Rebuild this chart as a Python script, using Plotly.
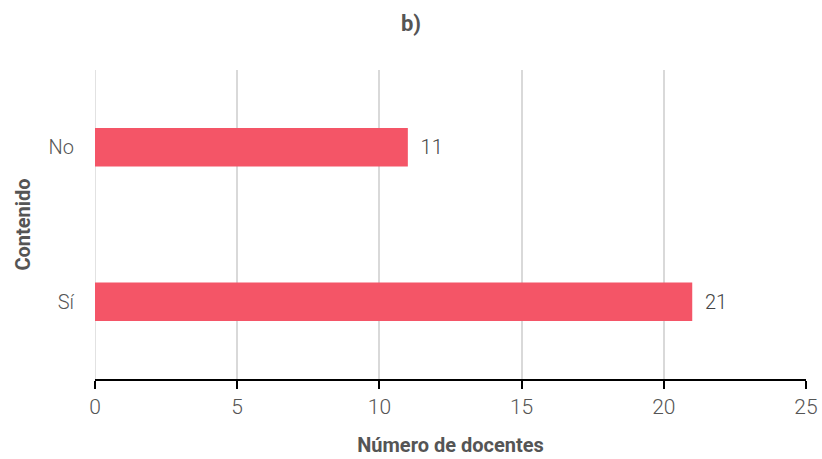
import plotly.graph_objects as go

categorias = ["Sí", "No"]
docentes = [21, 11]
ticks_x = [0, 5, 10, 15, 20, 25]

FONT = "Roboto"
GRIS = "#555555"

fig = go.Figure()
fig.add_trace(go.Bar(
    y=categorias,
    x=docentes,
    orientation="h",
    marker=dict(color="#F45567", line=dict(width=0)),
    text=["  " + str(v) for v in docentes],
    textposition="outside",
    textfont=dict(family=FONT, size=20, color="#444444", weight=300),
    cliponaxis=False,
))

fig.update_layout(
    width=822,
    height=459,
    margin=dict(l=95, r=16, t=70, b=80),
    paper_bgcolor="white",
    plot_bgcolor="white",
    bargap=0.75,
    showlegend=False,
    title=dict(
        text="<b>b)</b>",
        x=0.5,
        xanchor="center",
        y=0.95,
        yanchor="middle",
        font=dict(family=FONT, size=22, color=GRIS),
    ),
    xaxis=dict(
        range=[0, 25],
        tickvals=ticks_x,
        automargin=False,
        showgrid=True,
        gridcolor="#D9D9D9",
        gridwidth=1.5,
        zeroline=False,
        showline=True,
        linecolor="black",
        linewidth=1.5,
        ticks="outside",
        ticklen=8,
        tickcolor="black",
        tickwidth=1.5,
        tickfont=dict(family=FONT, size=21, color=GRIS, weight=300),
        title=dict(text="<b>Número de docentes</b>",
                   font=dict(family=FONT, size=20, color=GRIS), standoff=20),
    ),
    yaxis=dict(
        automargin=False,
        showgrid=False,
        zeroline=False,
        showline=False,
        ticks="",
        ticklabelstandoff=20,
        tickfont=dict(family=FONT, size=20, color=GRIS, weight=300),
        title=dict(text="<b>Contenido</b>",
                   font=dict(family=FONT, size=20, color=GRIS), standoff=12),
    ),
)

# light gridline at x=0 like the reference
fig.add_shape(type="line", xref="x", yref="paper", x0=0, x1=0, y0=0, y1=1,
              line=dict(color="#D9D9D9", width=1.5), layer="below")

# drop the default 8px body margin so the figure sits at the page corner
fig.write_html("out.html", config={"displayModeBar": False},
               post_script="document.body.style.margin='0';")
